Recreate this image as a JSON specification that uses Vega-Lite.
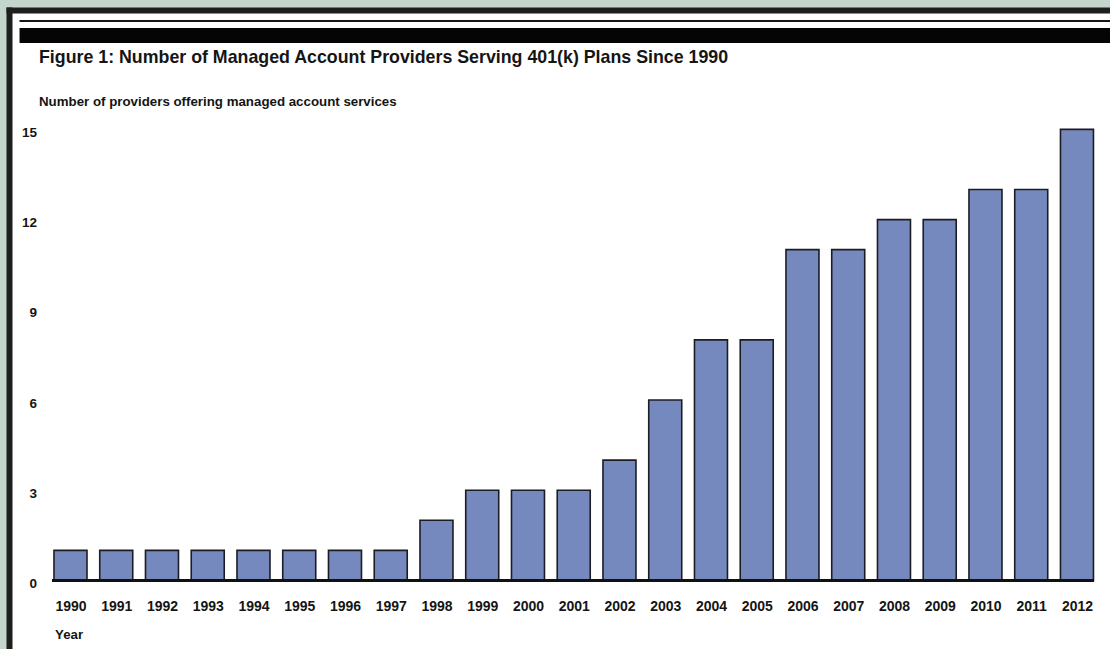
{
  "$schema": "https://vega.github.io/schema/vega-lite/v6.json",
  "autosize": "none",
  "width": 1101,
  "height": 639,
  "padding": {"left": 9, "top": 10, "right": 0, "bottom": 0},
  "background": "#c4d6cc",
  "config": {
    "view": {"fill": "white", "stroke": null},
    "font": "Liberation Sans"
  },
  "title": {
    "text": "Figure 1: Number of Managed Account Providers Serving 401(k) Plans Since 1990",
    "subtitle": "Number of providers offering managed account services",
    "anchor": "start",
    "frame": "group",
    "dx": 30,
    "dy": 98.5,
    "offset": 0,
    "font": "Liberation Sans",
    "fontSize": 17.8,
    "fontWeight": "bold",
    "color": "#151515",
    "subtitleFont": "Liberation Sans",
    "subtitleFontSize": 13.3,
    "subtitleFontWeight": "bold",
    "subtitleColor": "#151515",
    "subtitlePadding": 28.5
  },
  "data": {
    "values": [
      {"year": 1990, "providers": 1},
      {"year": 1991, "providers": 1},
      {"year": 1992, "providers": 1},
      {"year": 1993, "providers": 1},
      {"year": 1994, "providers": 1},
      {"year": 1995, "providers": 1},
      {"year": 1996, "providers": 1},
      {"year": 1997, "providers": 1},
      {"year": 1998, "providers": 2},
      {"year": 1999, "providers": 3},
      {"year": 2000, "providers": 3},
      {"year": 2001, "providers": 3},
      {"year": 2002, "providers": 4},
      {"year": 2003, "providers": 6},
      {"year": 2004, "providers": 8},
      {"year": 2005, "providers": 8},
      {"year": 2006, "providers": 11},
      {"year": 2007, "providers": 11},
      {"year": 2008, "providers": 12},
      {"year": 2009, "providers": 12},
      {"year": 2010, "providers": 13},
      {"year": 2011, "providers": 13},
      {"year": 2012, "providers": 15}
    ]
  },
  "layer": [
    {
      "mark": {"type": "bar", "size": 33, "fill": "#7689be", "stroke": "#1c1c24", "strokeWidth": 1.6},
      "encoding": {
        "x": {
          "field": "year",
          "type": "quantitative",
          "scale": {"domain": [1988.656, 2012.722], "nice": false, "zero": false, "padding": 0},
          "axis": {
            "orient": "bottom",
            "offset": -50,
            "values": [1990, 1991, 1992, 1993, 1994, 1995, 1996, 1997, 1998, 1999, 2000, 2001, 2002, 2003, 2004, 2005, 2006, 2007, 2008, 2009, 2010, 2011, 2012],
            "format": "d",
            "domain": false,
            "ticks": false,
            "tickSize": 0,
            "grid": false,
            "labelPadding": 0,
            "labelFont": "Liberation Sans",
            "labelFontSize": 14,
            "labelFontWeight": "bold",
            "labelColor": "#151515",
            "labelFlush": false,
            "labelOverlap": false,
            "title": "Year",
            "titleFont": "Liberation Sans",
            "titleFontSize": 13.3,
            "titleFontWeight": "bold",
            "titleColor": "#151515",
            "titleAnchor": "start",
            "titleAlign": "left",
            "titleBaseline": "alphabetic",
            "titleX": 45.5,
            "titleY": 39
          }
        },
        "y": {
          "field": "providers",
          "type": "quantitative",
          "scale": {"domain": [-2.28, 18.97], "nice": false, "zero": false},
          "axis": {
            "orient": "left",
            "offset": -27.5,
            "values": [0, 3, 6, 9, 12, 15],
            "domain": false,
            "ticks": false,
            "tickSize": 0,
            "grid": false,
            "labelPadding": 0,
            "labelOffset": 3,
            "labelFont": "Liberation Sans",
            "labelFontSize": 13.5,
            "labelFontWeight": "bold",
            "labelColor": "#151515",
            "title": null
          }
        },
        "y2": {"datum": 0}
      }
    },
    {
      "mark": {"type": "rule", "stroke": "#111111", "strokeWidth": 3},
      "encoding": {
        "x": {"datum": 1989.596, "type": "quantitative", "axis": null},
        "x2": {"datum": 2012.372},
        "y": {"datum": 0, "type": "quantitative", "axis": null}
      }
    },
    {
      "mark": {"type": "rule", "stroke": "#161616", "strokeWidth": 2},
      "encoding": {
        "x": {
          "datum": 1988.896,
          "type": "quantitative",
          "axis": {"orient": "top", "domain": true, "domainColor": "#1e1e1e", "domainWidth": 6, "domainCap": "square", "labels": false, "ticks": false, "grid": false, "title": null}
        },
        "x2": {"datum": 2012.722},
        "y": {
          "datum": 18.604,
          "type": "quantitative",
          "axis": {"orient": "left", "offset": 0, "domain": true, "domainColor": "#1e1e1e", "domainWidth": 6, "domainCap": "square", "labels": false, "ticks": false, "grid": false, "title": null}
        }
      }
    },
    {
      "mark": {"type": "rule", "stroke": "#050505", "strokeWidth": 15},
      "encoding": {
        "x": {"datum": 1988.896, "type": "quantitative", "axis": null},
        "x2": {"datum": 2012.722},
        "y": {"datum": 18.122, "type": "quantitative", "axis": null}
      }
    }
  ],
  "resolve": {"axis": {"x": "independent", "y": "independent"}}
}
